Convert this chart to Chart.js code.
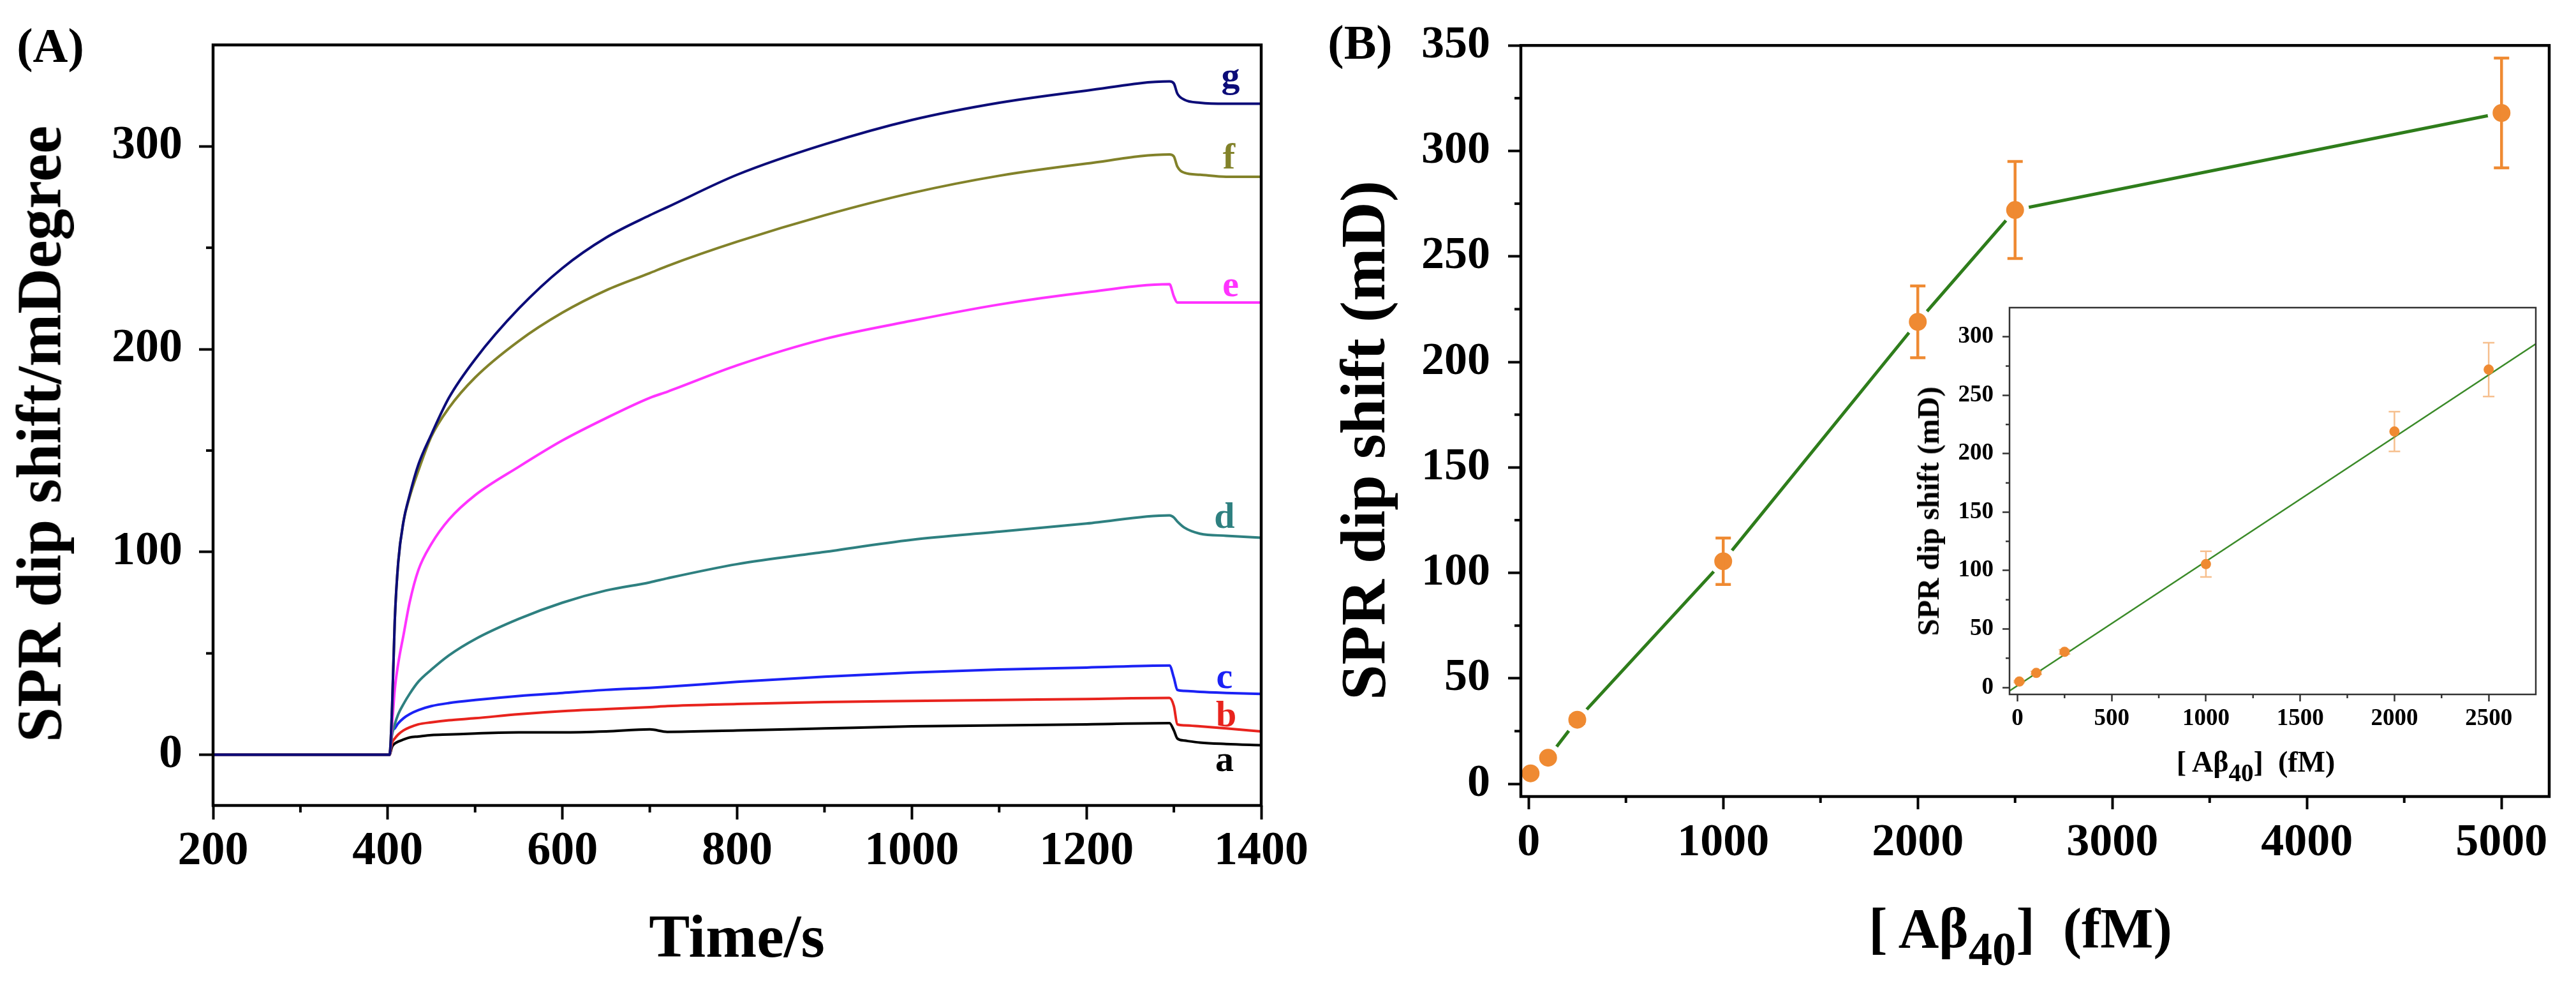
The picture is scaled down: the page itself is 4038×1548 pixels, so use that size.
<!DOCTYPE html>
<html>
<head>
<meta charset="utf-8">
<script src="https://cdn.jsdelivr.net/npm/chart.js@4.4.1/dist/chart.umd.min.js"></script>
<style>
  html, body { margin: 0; padding: 0; background: #fff; }
  #page { position: relative; width: 4038px; height: 1548px; overflow: hidden;
          font-family: 'Liberation Serif', 'Times New Roman', serif; font-weight: bold; color: #000; }
  canvas { position: absolute; left: 0; top: 0; }
  .lbl { position: absolute; white-space: nowrap; line-height: 1; transform: translate(-50%, -50%); }
  .rot { transform: translate(-50%, -50%) rotate(-90deg); }
  .sub { font-size: 0.85em; position: relative; top: 0.38em; }
</style>
</head>
<body>
<div id="page">
  <canvas id="chartA" width="4038" height="1548"></canvas>
  <canvas id="chartB" width="4038" height="1548"></canvas>
  <canvas id="chartInset" width="4038" height="1548"></canvas>

  <div class="lbl" style="left:79px;top:71px;font-size:76px">(A)</div>
  <div class="lbl rot" style="left:61px;top:680px;font-size:99px">SPR dip shift/mDegree</div>
  <div class="lbl" style="left:1155px;top:1467px;font-size:96px">Time/s</div>

  <div class="lbl" style="left:2132px;top:66px;font-size:76px">(B)</div>
  <div class="lbl rot" style="left:2137px;top:690px;font-size:100px">SPR dip shift (mD)</div>
  <div class="lbl" style="left:3167px;top:1455px;font-size:88px">[ A&beta;<span class="sub">40</span>]&nbsp;&nbsp;(fM)</div>

  <div class="lbl rot" style="left:3023px;top:801px;font-size:48px">SPR dip shift (mD)</div>
  <div class="lbl" style="left:3536px;top:1194px;font-size:46px">[ A&beta;<span class="sub">40</span>]&nbsp;&nbsp;(fM)</div>
</div>

<script>
// ---- (A) SPR sensorgrams, time in s, shift in mDegree ----
const timeS = [200, 300, 402, 405, 408, 412, 418, 425, 435, 450, 470, 500, 550, 600, 650, 700, 720,
               800, 900, 1000, 1100, 1200, 1295, 1300, 1304, 1312, 1330, 1360, 1400];
const curveA = [0, 0, 0, 4, 5.5, 6.5, 7.5, 8.5, 9, 9.7, 10, 10.5, 11, 11, 11.5, 12.5, 11.3,
                12, 13, 14, 14.5, 15, 15.6, 12, 8, 7, 6, 5.3, 4.7];
const curveB = [0, 0, 0, 6, 8, 10, 12, 13.5, 15, 16, 17, 18, 20, 21.5, 22.5, 23.5, 24,
                25, 26, 26.5, 27, 27.5, 28, 24, 15, 14.5, 14, 13, 11.5];
const curveC = [0, 0, 0, 11, 13, 15.5, 18, 20, 22, 24, 25.5, 27, 29, 30.5, 32, 33, 33.5,
                36, 38.5, 40.5, 42, 43, 44, 38, 32, 31.5, 31, 30.5, 30];
const curveD = [0, 0, 0, 10, 15, 20, 25, 30, 36, 42, 49, 57, 67, 75, 81, 85, 87,
                94, 100, 106, 110, 114, 118, 117, 115, 112, 109, 108, 107];
const curveE = [0, 0, 0, 15, 32, 45, 59, 75, 91, 104, 116, 128, 142, 155, 166, 176, 179,
                192, 205, 214, 222, 228, 232, 226, 223, 223, 223, 223, 223];
const curveF = [0, 0, 0, 24, 66, 95, 115, 127, 140, 157, 171, 186, 204, 218, 229, 237.5, 241,
                253, 266, 277, 285.5, 291.5, 296, 295, 290, 287, 286, 285, 285];
const curveG = [0, 0, 0, 24, 66, 95, 115, 128, 143, 158, 176, 195, 220, 240, 255, 266, 270,
                286, 301, 313, 321.5, 327.5, 332, 331, 326, 323, 321.5, 321, 321];
const curveNames = ['a', 'b', 'c', 'd', 'e', 'f', 'g'];
const curveColors = ['#000000', '#e8231d', '#1b22f5', '#2e8080', '#ff33ff', '#82822a', '#0c0c78'];
const labelX = [1358, 1360, 1358, 1358, 1365, 1363, 1365];
const labelY = [-8, 14, 33, 112, 226, 289, 329];
const ticksAx = [200, 400, 600, 800, 1000, 1200, 1400];
const minorAx = [300, 500, 700, 900, 1100, 1300];
const ticksAy = [0, 100, 200, 300];
const minorAy = [50, 150, 250];

// ---- (B) calibration, concentration in fM ----
const concFm = [10, 100, 250, 1000, 2000, 2500, 5000];
const shiftMd = [5, 12.4, 30.4, 105.5, 219, 272, 318];
const errMd = [0.8, 1.2, 1.8, 11, 17, 23, 26];
const ticksBx = [0, 1000, 2000, 3000, 4000, 5000];
const minorBx = [500, 1500, 2500, 3500, 4500];
const ticksBy = [0, 50, 100, 150, 200, 250, 300, 350];
const minorBy = [25, 75, 125, 175, 225, 275, 325];

// inset: linear range only
const fitX = [-42, 2750];
const fitY = [-3, 294];
const ticksIx = [0, 500, 1000, 1500, 2000, 2500];
const minorIx = [250, 750, 1250, 1750, 2250];
const ticksIy = [0, 50, 100, 150, 200, 250, 300];
const minorIy = [25, 75, 125, 175, 225, 275];

const SERIF = "'Liberation Serif', 'Times New Roman', serif";
const ORANGE = '#ef8a32';
const GREEN = '#2e7d1b';

function pts(xs, ys) { return xs.map((x, i) => ({ x: x, y: ys[i] })); }

function axis(min, max, ticks, o) {
  return {
    type: 'linear', min: min, max: max,
    afterBuildTicks: s => { s.ticks = ticks.map(v => ({ value: v })); },
    afterFit: s => { if (s.axis === 'x') s.height = o.fit; else s.width = o.fit; },
    ticks: { autoSkip: false, maxRotation: 0, padding: o.pad, color: '#000',
             font: { family: SERIF, size: o.font, weight: 'bold' },
             callback: v => String(v) },
    grid: { display: true, drawOnChartArea: false, drawTicks: true,
            tickLength: o.len, tickWidth: o.width, tickColor: o.color || '#000' },
    border: { display: false }
  };
}

// box frame + minor ticks (Chart.js has no minor ticks)
const frameBox = {
  id: 'frameBox',
  afterDraw(chart, args, opts) {
    const ctx = chart.ctx, a = chart.chartArea;
    ctx.save();
    ctx.strokeStyle = opts.color;
    ctx.lineWidth = opts.tickWidth;
    opts.minorX.forEach(v => {
      const px = chart.scales.x.getPixelForValue(v);
      ctx.beginPath(); ctx.moveTo(px, a.bottom); ctx.lineTo(px, a.bottom + opts.minorLen); ctx.stroke();
    });
    opts.minorY.forEach(v => {
      const py = chart.scales.y.getPixelForValue(v);
      ctx.beginPath(); ctx.moveTo(a.left, py); ctx.lineTo(a.left - opts.minorLen, py); ctx.stroke();
    });
    ctx.lineWidth = opts.width;
    ctx.strokeRect(a.left, a.top, a.right - a.left, a.bottom - a.top);
    ctx.restore();
  }
};

const errorBars = {
  id: 'errorBars',
  afterDatasetsDraw(chart, args, opts) {
    const ctx = chart.ctx, ys = chart.scales.y;
    const ds = chart.data.datasets[opts.index];
    const meta = chart.getDatasetMeta(opts.index);
    ctx.save();
    ctx.strokeStyle = opts.color;
    ctx.lineWidth = opts.width;
    meta.data.forEach((el, i) => {
      const v = ds.data[i].y, e = opts.errors[i];
      const t = ys.getPixelForValue(v + e), b = ys.getPixelForValue(v - e);
      ctx.beginPath();
      ctx.moveTo(el.x, t); ctx.lineTo(el.x, b);
      ctx.moveTo(el.x - opts.cap, t); ctx.lineTo(el.x + opts.cap, t);
      ctx.moveTo(el.x - opts.cap, b); ctx.lineTo(el.x + opts.cap, b);
      ctx.stroke();
    });
    ctx.restore();
  }
};

const curveLabels = {
  id: 'curveLabels',
  afterDatasetsDraw(chart) {
    const ctx = chart.ctx;
    ctx.save();
    ctx.font = 'bold 58px ' + SERIF;
    ctx.textAlign = 'center';
    ctx.textBaseline = 'alphabetic';
    curveNames.forEach((n, i) => {
      ctx.fillStyle = curveColors[i];
      ctx.fillText(n, chart.scales.x.getPixelForValue(labelX[i]), chart.scales.y.getPixelForValue(labelY[i]));
    });
    ctx.restore();
  }
};

const base = { responsive: false, animation: false, devicePixelRatio: 1,
               plugins: { legend: { display: false }, tooltip: { enabled: false } } };

// ----- chart A -----
const curvesA = [curveA, curveB, curveC, curveD, curveE, curveF, curveG];
new Chart(document.getElementById('chartA'), {
  type: 'line',
  data: {
    datasets: curvesA.map((c, i) => ({
      label: curveNames[i], data: pts(timeS, c),
      borderColor: curveColors[i], borderWidth: 4, pointRadius: 0,
      cubicInterpolationMode: 'monotone', order: 6 - i   // g drawn on top
    }))
  },
  options: Object.assign({}, base, {
    layout: { padding: { left: 134, top: 57, right: 4038 - 1977, bottom: 1548 - 1262 - 150 } },
    plugins: Object.assign({}, base.plugins, {
      frameBox: { color: '#000', width: 4.5, tickWidth: 4, minorLen: 11, minorX: minorAx, minorY: minorAy }
    }),
    scales: {
      x: axis(200, 1400, ticksAx, { fit: 150, pad: 6, font: 74, len: 22, width: 4 }),
      y: axis(-25, 350, ticksAy, { fit: 200, pad: 26, font: 74, len: 22, width: 4 })
    }
  }),
  plugins: [frameBox, curveLabels]
});

// ----- chart B -----
new Chart(document.getElementById('chartB'), {
  type: 'line',
  data: {
    datasets: [{
      label: 'SPR dip shift', data: pts(concFm, shiftMd),
      borderColor: GREEN, borderWidth: 5,
      pointRadius: 18, pointBackgroundColor: ORANGE,
      pointBorderColor: '#ffffff', pointBorderWidth: 8
    }]
  },
  options: Object.assign({}, base, {
    layout: { padding: { left: 2184, top: 64, right: 4038 - 3996, bottom: 1548 - 1248 - 150 } },
    plugins: Object.assign({}, base.plugins, {
      frameBox: { color: '#000', width: 4.5, tickWidth: 4, minorLen: 10, minorX: minorBx, minorY: minorBy },
      errorBars: { index: 0, errors: errMd, color: ORANGE, width: 4.5, cap: 12 }
    }),
    scales: {
      x: axis(-40, 5245, ticksBx, { fit: 150, pad: 10, font: 72, len: 20, width: 4 }),
      y: axis(-6, 350, ticksBy, { fit: 200, pad: 28, font: 72, len: 20, width: 4 })
    }
  }),
  plugins: [frameBox, errorBars]
});

// ----- inset -----
new Chart(document.getElementById('chartInset'), {
  type: 'line',
  data: {
    datasets: [{
      label: 'data', data: pts(concFm.slice(0, 6), shiftMd.slice(0, 6)),
      showLine: false, pointRadius: 8, pointBackgroundColor: ORANGE,
      pointBorderColor: ORANGE, pointBorderWidth: 0, order: 0
    }, {
      label: 'fit', data: pts(fitX, fitY),
      borderColor: '#3a8a28', borderWidth: 2.5, pointRadius: 0, order: 1
    }]
  },
  options: Object.assign({}, base, {
    layout: { padding: { left: 3050, top: 482, right: 4038 - 3975, bottom: 1548 - 1088 - 80 } },
    plugins: Object.assign({}, base.plugins, {
      frameBox: { color: '#333', width: 2.5, tickWidth: 2.5, minorLen: 6, minorX: minorIx, minorY: minorIy },
      errorBars: { index: 0, errors: errMd.slice(0, 6), color: 'rgba(239,138,50,0.55)', width: 2.5, cap: 9 }
    }),
    scales: {
      x: axis(-42, 2750, ticksIx, { fit: 80, pad: 5, font: 37, len: 11, width: 2.5, color: '#333' }),
      y: axis(-6, 325, ticksIy, { fit: 100, pad: 14, font: 37, len: 11, width: 2.5, color: '#333' })
    }
  }),
  plugins: [frameBox, errorBars]
});
</script>
</body>
</html>
